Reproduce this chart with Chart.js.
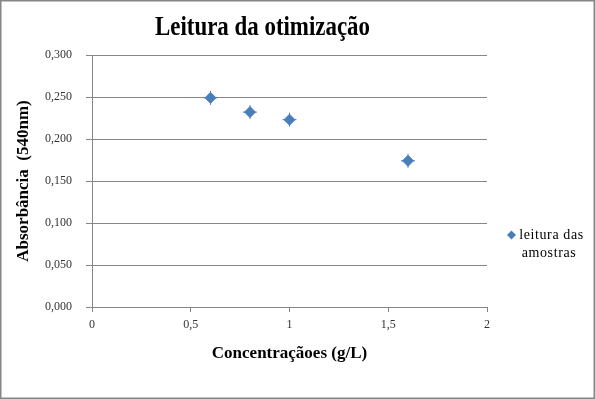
<!DOCTYPE html>
<html>
<head>
<meta charset="utf-8">
<script src="https://cdn.jsdelivr.net/npm/chart.js@4"></script>
<style>
  html, body { margin: 0; padding: 0; background: #fff; }
  #wrap { width: 595px; height: 399px; }
</style>
</head>
<body>
<div id="wrap"><canvas id="myChart" width="595" height="399"></canvas></div>
<script>
const concentracoes = [0.6, 0.8, 1.0, 1.6]
const absorbancia = [0.249, 0.232, 0.223, 0.174]
const xTicks = [0, 0.5, 1, 1.5, 2]
const yTicks = [0, 0.05, 0.1, 0.15, 0.2, 0.25, 0.3]
const serieLabel = ['leitura das', 'amostras']

const azul = '#4A7EBB'
const cinza = '#868686'

const points = concentracoes.map((x, i) => ({ x: x, y: absorbancia[i] }))

// titulo, legenda e borda desenhados à mão
const extras = {
  id: 'extras',
  afterDraw(chart) {
    const c = chart.ctx
    c.save()
    c.strokeStyle = cinza
    c.lineWidth = 1.5
    c.strokeRect(0.75, 0.75, 593.5, 397.5)

    c.fillStyle = '#000'
    c.font = 'bold 27px "Liberation Serif"'
    c.textAlign = 'center'
    c.textBaseline = 'alphabetic'
    const t = 'Leitura da otimização'
    const w = c.measureText(t).width
    c.translate(262.5, 35)
    c.scale(215 / w, 1)
    c.fillText(t, 0, 0)
    c.restore()

    c.save()
    c.fillStyle = azul
    c.beginPath()
    c.moveTo(511.5, 230.5)
    c.lineTo(516, 235)
    c.lineTo(511.5, 239.5)
    c.lineTo(507, 235)
    c.closePath()
    c.fill()
    c.fillStyle = '#000'
    c.font = '14px "Liberation Serif"'
    c.letterSpacing = '0.6px'
    c.textAlign = 'center'
    c.textBaseline = 'middle'
    c.fillText(serieLabel[0], 551.5, 235)
    c.fillText(serieLabel[1], 549, 253)
    c.restore()
  }
}

new Chart(document.getElementById('myChart'), {
  type: 'scatter',
  data: {
    datasets: [
      {
        label: serieLabel.join(' '),
        data: points,
        pointStyle: 'rectRot',
        pointRadius: 5.5,
        pointHoverRadius: 5.5,
        backgroundColor: azul,
        borderColor: azul,
        borderWidth: 1
      },
      {
        label: 'barras',
        data: points,
        pointStyle: 'cross',
        pointRadius: 7,
        pointHoverRadius: 7,
        borderColor: azul,
        borderWidth: 1
      }
    ]
  },
  options: {
    responsive: false,
    animation: false,
    layout: { padding: { top: 55, right: 108, left: 0, bottom: 0 } },
    plugins: {
      legend: { display: false },
      title: { display: false },
      tooltip: { enabled: false }
    },
    scales: {
      x: {
        type: 'linear',
        min: 0,
        max: 2,
        afterFit: s => { s.height = 92 },
        afterBuildTicks: s => { s.ticks = xTicks.map(v => ({ value: v })) },
        ticks: {
          color: '#333',
          font: { family: 'Liberation Serif', size: 12 },
          padding: 6,
          maxRotation: 0,
          callback: v => String(v).replace('.', ',')
        },
        grid: { drawOnChartArea: false, color: cinza, tickLength: 5 },
        border: { color: cinza },
        title: {
          display: true,
          text: 'Concentraçãoes (g/L)',
          color: '#000',
          font: { family: 'Liberation Serif', size: 17, weight: 'bold' },
          padding: { top: 0, bottom: 35 }
        }
      },
      y: {
        min: 0,
        max: 0.3,
        afterFit: s => { s.width = 92 },
        afterBuildTicks: s => { s.ticks = yTicks.map(v => ({ value: v })) },
        ticks: {
          color: '#333',
          font: { family: 'Liberation Serif', size: 12 },
          padding: 14,
          callback: v => v.toFixed(3).replace('.', ',')
        },
        grid: { color: cinza, tickLength: 6 },
        border: { color: cinza },
        title: {
          display: true,
          text: 'Absorbância  (540nm)',
          color: '#000',
          font: { family: 'Liberation Serif', size: 17, weight: 'bold' },
          padding: { top: 13, bottom: 0 }
        }
      }
    }
  },
  plugins: [extras]
})
</script>
</body>
</html>
